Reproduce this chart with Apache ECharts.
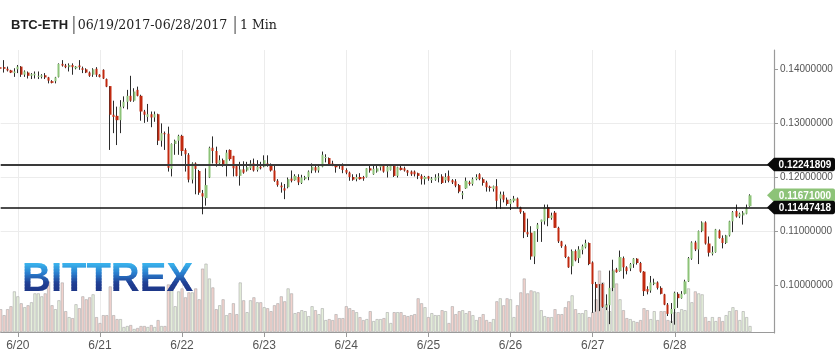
<!DOCTYPE html>
<html>
<head>
<meta charset="utf-8">
<script src="https://cdn.jsdelivr.net/npm/echarts@6.0.0/dist/echarts.min.js"></script>
<style>
html,body{margin:0;padding:0;background:#fff;}
#chart{width:839px;height:352px;}
</style>
</head>
<body>
<div id="chart"></div>
<script>
// ---- data (hourly candles, [open, close, low, high]) ----
const candles = [
[.1404,.1401,.1396,.1408],[.1404,.1401,.1394,.1417],[.1401,.1398,.1396,.1405],[.1398,.1394,.1393,.1399],[.1393,.1396,.1386,.1402],
[.1400,.1405,.1393,.1408],[.1405,.1390,.1386,.1406],[.1390,.1396,.1386,.1398],[.1394,.1388,.1383,.1396],[.1388,.1391,.1382,.1393],
[.1389,.1392,.1383,.1396],[.1386,.1388,.1382,.1396],[.1386,.1389,.1383,.1391],[.1389,.1385,.1382,.1393],[.1385,.1379,.1374,.1386],
[.1378,.1375,.1374,.1380],[.1378,.1385,.1374,.1386],[.1386,.1410,.1385,.1411],[.1410,.1407,.1405,.1417],[.1407,.1404,.1402,.1410],
[.1404,.1408,.1396,.1411],[.1408,.1404,.1390,.1411],[.1402,.1405,.1400,.1406],[.1407,.1404,.1399,.1417],[.1402,.1399,.1393,.1405],
[.1400,.1394,.1393,.1402],[.1394,.1388,.1386,.1396],[.1390,.1400,.1386,.1402],[.1401,.1390,.1386,.1404],[.1390,.1386,.1385,.1391],
[.1399,.1383,.1382,.1400],[.1382,.1368,.1367,.1383],[.1369,.1316,.1251,.1369],[.1316,.1312,.1282,.1342],[.1314,.1306,.1260,.1331],
[.1306,.1331,.1282,.1343],[.1331,.1340,.1328,.1350],[.1340,.1351,.1326,.1362],[.1351,.1342,.1340,.1388],[.1342,.1359,.1340,.1365],
[.1362,.1351,.1350,.1368],[.1351,.1322,.1305,.1353],[.1322,.1316,.1301,.1325],[.1312,.1317,.1303,.1336],[.1317,.1311,.1293,.1322],
[.1311,.1317,.1303,.1322],[.1317,.1268,.1260,.1318],[.1268,.1282,.1257,.1300],[.1282,.1280,.1251,.1285],[.1281,.1218,.1211,.1294],
[.1216,.1262,.1202,.1263],[.1262,.1268,.1242,.1270],[.1268,.1277,.1242,.1279],[.1277,.1249,.1240,.1279],[.1251,.1243,.1211,.1254],
[.1242,.1196,.1191,.1245],[.1196,.1226,.1189,.1228],[.1226,.1216,.1169,.1228],[.1212,.1172,.1168,.1214],[.1171,.1165,.1132,.1177],
[.1162,.1186,.1148,.1217],[.1200,.1255,.1199,.1257],[.1255,.1249,.1226,.1276],[.1249,.1226,.1220,.1257],[.1226,.1232,.1223,.1241],
[.1232,.1223,.1220,.1235],[.1223,.1246,.1202,.1251],[.1251,.1234,.1231,.1252],[.1240,.1217,.1202,.1240],[.1221,.1203,.1202,.1223],
[.1203,.1215,.1185,.1229],[.1215,.1209,.1207,.1230],[.1213,.1219,.1211,.1229],[.1217,.1226,.1214,.1232],[.1226,.1213,.1211,.1235],
[.1214,.1220,.1211,.1232],[.1220,.1217,.1215,.1229],[.1220,.1232,.1219,.1241],[.1226,.1223,.1220,.1241],[.1223,.1213,.1211,.1226],
[.1213,.1194,.1192,.1223],[.1194,.1186,.1183,.1197],[.1185,.1182,.1172,.1191],[.1180,.1176,.1160,.1188],[.1182,.1197,.1180,.1200],
[.1198,.1194,.1191,.1213],[.1195,.1203,.1194,.1206],[.1201,.1191,.1186,.1206],[.1190,.1200,.1188,.1205],[.1197,.1201,.1195,.1203],
[.1201,.1211,.1195,.1213],[.1213,.1220,.1208,.1226],[.1219,.1213,.1209,.1225],[.1213,.1220,.1209,.1225],[.1220,.1242,.1219,.1248],
[.1236,.1238,.1228,.1243],[.1236,.1225,.1223,.1237],[.1226,.1222,.1221,.1231],[.1223,.1219,.1209,.1225],[.1223,.1221,.1216,.1225],
[.1225,.1214,.1208,.1226],[.1214,.1209,.1206,.1217],[.1209,.1201,.1194,.1211],[.1201,.1196,.1194,.1206],[.1197,.1201,.1193,.1206],
[.1201,.1197,.1196,.1208],[.1201,.1198,.1194,.1203],[.1201,.1217,.1200,.1217],[.1217,.1213,.1209,.1222],[.1206,.1216,.1205,.1225],
[.1211,.1217,.1209,.1222],[.1219,.1224,.1213,.1225],[.1223,.1211,.1209,.1225],[.1211,.1220,.1200,.1223],[.1214,.1222,.1213,.1223],
[.1222,.1203,.1201,.1223],[.1203,.1219,.1200,.1220],[.1218,.1214,.1213,.1222],[.1217,.1213,.1211,.1220],[.1213,.1209,.1203,.1214],
[.1211,.1206,.1203,.1213],[.1211,.1206,.1202,.1213],[.1208,.1203,.1197,.1209],[.1203,.1197,.1187,.1206],[.1197,.1201,.1187,.1203],
[.1202,.1198,.1194,.1203],[.1195,.1198,.1190,.1201],[.1196,.1200,.1194,.1206],[.1200,.1202,.1191,.1208],[.1202,.1190,.1188,.1206],
[.1195,.1201,.1190,.1208],[.1203,.1194,.1191,.1213],[.1195,.1191,.1188,.1197],[.1193,.1185,.1182,.1197],[.1186,.1174,.1171,.1188],
[.1168,.1171,.1160,.1175],[.1180,.1194,.1179,.1200],[.1191,.1188,.1185,.1194],[.1188,.1197,.1185,.1200],[.1197,.1201,.1195,.1206],
[.1206,.1197,.1195,.1208],[.1197,.1190,.1185,.1200],[.1191,.1182,.1174,.1194],[.1183,.1181,.1174,.1185],[.1179,.1184,.1174,.1185],
[.1184,.1157,.1142,.1197],[.1161,.1169,.1142,.1174],[.1168,.1159,.1154,.1174],[.1159,.1151,.1148,.1163],[.1151,.1159,.1140,.1160],
[.1157,.1161,.1154,.1166],[.1161,.1146,.1144,.1163],[.1145,.1136,.1133,.1146],[.1135,.1099,.1088,.1138],[.1099,.1095,.1090,.1124],
[.1098,.1054,.1048,.1110],[.1054,.1101,.1040,.1101],[.1105,.1113,.1081,.1116],[.1118,.1122,.1081,.1122],[.1119,.1145,.1113,.1150],
[.1145,.1125,.1110,.1150],[.1125,.1130,.1122,.1135],[.1135,.1107,.1107,.1138],[.1107,.1082,.1079,.1109],[.1082,.1073,.1070,.1083],
[.1073,.1053,.1051,.1076],[.1053,.1034,.1033,.1054],[.1036,.1064,.1021,.1067],[.1064,.1047,.1045,.1067],[.1051,.1067,.1042,.1073],
[.1066,.1073,.1058,.1076],[.1071,.1079,.1069,.1085],[.1079,.1040,.1038,.1080],[.1043,.1003,.0950,.1045],[.1003,.0996,.0952,.1007],
[.1002,.1001,.0953,.1003],[.1003,.0961,.0959,.1005],[.0960,.0964,.0955,.0984],[.0964,.0996,.0929,.1028],[.0996,.1028,.0990,.1048],
[.1030,.1025,.1024,.1033],[.1027,.1053,.1026,.1065],[.1051,.1034,.1013,.1054],[.1034,.1027,.1021,.1036],[.1032,.1040,.1027,.1042],
[.1040,.1050,.1033,.1051],[.1050,.1042,.1039,.1051],[.1042,.1026,.1024,.1044],[.1026,.0990,.0981,.1027],[.0994,.0989,.0984,.0999],
[.0991,.1006,.0987,.1018],[.1003,.1006,.1001,.1013],[.1006,.0996,.0993,.1008],[.0996,.0985,.0984,.0999],[.0984,.0965,.0964,.0985],
[.0965,.0948,.0944,.0968],[.0948,.0957,.0931,.0968],[.0957,.0987,.0928,.0989],[.0985,.0977,.0959,.0988],[.0977,.0985,.0976,.0990],
[.0985,.1008,.0984,.1011],[.1008,.1051,.1007,.1053],[.1050,.1080,.1048,.1082],[.1080,.1067,.1064,.1083],[.1067,.1101,.1040,.1102],
[.1101,.1117,.1099,.1119],[.1117,.1078,.1076,.1119],[.1078,.1061,.1054,.1091],[.1059,.1062,.1056,.1073],[.1062,.1104,.1061,.1105],
[.1102,.1088,.1087,.1104],[.1088,.1079,.1069,.1093],[.1079,.1093,.1077,.1094],[.1093,.1119,.1091,.1120],[.1119,.1136,.1099,.1138],
[.1138,.1128,.1126,.1150],[.1128,.1133,.1125,.1135],[.1130,.1135,.1113,.1138],[.1133,.1144,.1132,.1150],[.1147,.11671,.1146,.1169]
];
const volumes = [
23,17,23,26,41,36,29,25,27,30, 39,39,36,39,51,27,23,32,50,21, 15,14,28,24,36,33,35,38,15,9,
17,17,46,17,13,13,5,6,7,3, 4,6,6,5,7,5,12,6,6,48, 48,26,41,44,35,40,40,44,33,64,
69,54,45,23,27,33,17,19,29,18, 50,32,20,32,35,30,30,25,24,21, 27,29,36,31,44,39,19,20,22,21,
16,26,22,18,24,12,13,12,18,14, 14,26,24,22,20,15,12,13,21,11, 13,13,14,20,9,20,20,
20,17,16,17,18,34,29,25,15,19, 17,17,22,21,9,26,18,21,22,19, 21,17,12,15,18,12,10,13,31,34,
27,34,33,15,27,40,54,39,42,41, 40,22,16,15,15,23,18,18,25,31, 37,23,19,19,22,15,20,33,62,50,
28,21,63,49,33,22,14,13,11,10, 12,24,22,13,21,12,21,21,12,11, 20,20,23,22,44,30,41,39,38,15,
11,15,11,15,11,17,21,25,22,12, 21,15,6
];
const firstBarTime = Date.UTC(2017, 5, 19, 19);   // first hourly bar: 06/19 19:00
const slotCount = 227;                            // hourly slots on the axis (incl. empty right margin)
const priceTicks = [0.10, 0.11, 0.12, 0.13, 0.14];
const levelLines = [0.12241809, 0.11447418];
const lastPrice = 0.11671;
const titleParts = ['BTC-ETH', '06/19/2017-06/28/2017', '1 Min'];
const logoText = 'BITTREX';

// ---- build ----
const HOUR = 3600e3;
const cats = [];
for (let i = 0; i < slotCount; i++) {
  const d = new Date(firstBarTime + i * HOUR);
  cats.push((d.getUTCMonth() + 1) + '/' + d.getUTCDate() + ' ' + d.getUTCHours());
}
const isDayTick = (idx) => idx < candles.length && new Date(firstBarTime + idx * HOUR).getUTCHours() === 0;

const UP = '#8dc378', DOWN = '#c1290f', WICK = '#2b2b2b';
const bodyData = candles.map(c => [c[0], c[1], Math.min(c[0], c[1]), Math.max(c[0], c[1])]);
const volData = volumes.map((v, i) => ({
  value: v,
  itemStyle: { color: candles[i][1] >= candles[i][0] ? '#e6f0dc' : '#f2d3ce' }
}));

const chart = echarts.init(document.getElementById('chart'), null, { renderer: 'canvas' });
const GL = 0.7, GW = 773.3;
const labelPath = 'path://M0,6.5L7,0L66,0Q68,0 68,2L68,11Q68,13 66,13L7,13Z';
const mkLabel = (val, color) => ({
  coord: [cats[slotCount - 1], val],
  value: val,
  symbol: labelPath,
  symbolSize: [68, 13.5],
  symbolOffset: [27, 0],
  itemStyle: { color: color },
  label: {
    show: true, position: 'inside', offset: [4, 0.5],
    color: '#fff', fontSize: 10, fontWeight: 'bold', fontFamily: 'Liberation Sans',
    formatter: p => Number(p.value).toFixed(8)
  }
});

chart.setOption({
  animation: false,
  backgroundColor: '#fff',
  grid: [
    { left: GL, width: GW, top: 50, height: 283 },
    { left: GL, width: GW, top: 233, height: 100 }
  ],
  xAxis: [
    {
      type: 'category', gridIndex: 0, data: cats, boundaryGap: false,
      axisLine: { show: false }, axisTick: { show: false }, axisLabel: { show: false },
      splitLine: { show: true, interval: (idx) => isDayTick(idx), lineStyle: { color: '#ececec', width: 1 } }
    },
    {
      type: 'category', gridIndex: 1, data: cats, boundaryGap: false,
      axisLine: { show: true, lineStyle: { color: '#9a9a9a', width: 1.2 } },
      axisTick: { show: true, interval: (idx) => isDayTick(idx), length: 5, lineStyle: { color: '#9a9a9a' } },
      axisLabel: {
        show: true, interval: (idx) => isDayTick(idx), margin: 8,
        color: '#555', fontSize: 12, fontFamily: 'Liberation Sans',
        formatter: v => v.split(' ')[0]
      },
      splitLine: { show: false }
    }
  ],
  yAxis: [
    {
      type: 'value', gridIndex: 0, position: 'right', min: 0.09126, max: 0.14357, scale: true,
      axisLine: { show: true, lineStyle: { color: '#9a9a9a', width: 1.2 } },
      axisTick: { show: true, customValues: priceTicks, length: 4, lineStyle: { color: '#9a9a9a' } },
      axisLabel: {
        show: true, customValues: priceTicks, margin: 6,
        color: '#555', fontSize: 10, fontFamily: 'Liberation Sans',
        formatter: v => Number(v).toFixed(8)
      },
      splitLine: { show: true, showMinLine: false, showMaxLine: false, lineStyle: { color: '#ececec', width: 1 } }
    },
    { type: 'value', gridIndex: 1, min: 0, max: 100, show: false, splitLine: { show: false } }
  ],
  graphic: [
    {
      type: 'text', left: 11, top: 17, z: 10,
      style: {
        text: '{a|' + titleParts[0] + '}{s1||}{b|' + titleParts[1] + '}{s2||}{b|' + titleParts[2] + '}',
        rich: {
          a: { fontFamily: 'Liberation Sans', fontWeight: 'bold', fontSize: 13, fill: '#222', color: '#222' },
          b: { fontFamily: 'DejaVu Serif', fontSize: 12.6, fill: '#222', color: '#222' },
          s1: { fontFamily: 'DejaVu Sans', fontSize: 17, color: '#777', fill: '#777', padding: [0, 1, 0, 3] },
          s2: { fontFamily: 'DejaVu Sans', fontSize: 17, color: '#777', fill: '#777', padding: [0, 2, 0, 5] }
        }
      }
    }
  ],
  series: [
    {
      type: 'bar', xAxisIndex: 1, yAxisIndex: 1, data: volData,
      barWidth: 3, silent: true,
      itemStyle: { borderColor: '#a9a9a9', borderWidth: 0.6 }
    },
    {
      type: 'candlestick', xAxisIndex: 0, yAxisIndex: 0, data: candles,
      barWidth: 0.6, silent: true,
      itemStyle: { color: WICK, color0: WICK, borderColor: WICK, borderColor0: WICK, borderWidth: 1 }
    },
    {
      type: 'candlestick', xAxisIndex: 0, yAxisIndex: 0, data: bodyData,
      barWidth: 2.6, silent: true,
      itemStyle: { color: UP, color0: DOWN, borderColor: UP, borderColor0: DOWN, borderWidth: 0 },
      markLine: {
        silent: true, symbol: 'none', animation: false, precision: 8,
        label: { show: false },
        data: [
          { yAxis: levelLines[0], lineStyle: { color: '#3a3a3a', width: 2, type: 'solid' } },
          { yAxis: levelLines[1], lineStyle: { color: '#111', width: 1.6, type: 'solid' } }
        ]
      },
      markPoint: {
        silent: true, animation: false,
        data: [ mkLabel(lastPrice, '#8dc378'), mkLabel(levelLines[0], '#0a0a0a'), mkLabel(levelLines[1], '#0a0a0a') ]
      }
    }
  ]
});

// ---- BITTREX watermark: vertical light-to-dark blue shading, built from clipped horizontal bands ----
(function addLogo() {
  const zr = chart.getZr();
  const LOGO_FONT = 'bold 40px "Liberation Sans"';
  const capTop = 263, capBottom = 293, band = 1.5;
  const shade = ['#3bb6ee', '#2a80cf', '#203f94', '#1c3585'];
  const from = capTop - 6, to = capBottom + 6;
  for (let y = from; y < to; y += band) {
    const t = Math.min(1, Math.max(0, (y + band / 2 - capTop) / (capBottom - capTop)));
    const col = echarts.color.lerp(t, shade);
    const txt = new echarts.graphic.Text({
      style: { text: logoText, font: LOGO_FONT, x: 22, y: 260, fill: col }, z: 10
    });
    const clip = new echarts.graphic.Rect({ shape: { x: 0, y: y, width: 300, height: band + 0.6 } });
    txt.setClipPath(clip);
    zr.add(txt);
  }
})();
</script>
</body>
</html>
